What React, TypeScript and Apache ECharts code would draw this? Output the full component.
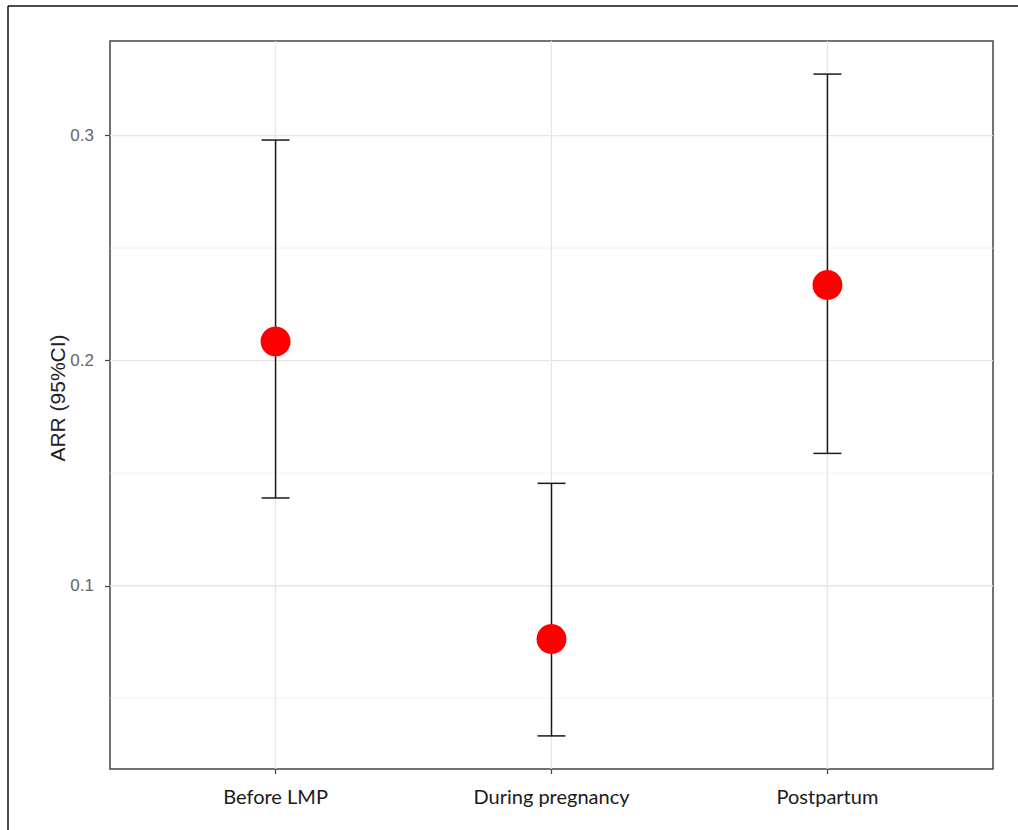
import React, { useEffect, useRef } from "react";
import * as echarts from "echarts";

const categories = ["Before LMP", "During pregnancy", "Postpartum"];
const categoryPositions = [1, 2, 3];
const estimates = [0.2085, 0.0764, 0.2336];
const lowerCI = [0.139, 0.0333, 0.1588];
const upperCI = [0.298, 0.1455, 0.3273];
const yTickValues = [0.1, 0.2, 0.3];
const yMinorValues = [0.05, 0.15, 0.25];

export default function App() {
  const ref = useRef<HTMLDivElement>(null);
  useEffect(() => {
    if (!ref.current) return;
    const chart = echarts.init(ref.current, null, { renderer: "svg" });

    const hLines = [
      ...yTickValues.map((v) => [v, 1]),
      ...yMinorValues.map((v) => [v, 0]),
    ];
    const vLines = categoryPositions.map((v) => [v]);

    const option = {
      animation: false,
      backgroundColor: "#ffffff",
      grid: {
        left: 110,
        top: 41,
        right: 25,
        bottom: 61,
        show: true,
        borderColor: "#444444",
        borderWidth: 1.5,
        backgroundColor: "transparent",
      },
      xAxis: {
        type: "value",
        min: 0.4,
        max: 3.6,
        splitLine: { show: false },
        axisLine: { show: false },
        axisTick: {
          show: true,
          customValues: categoryPositions,
          length: 5,
          lineStyle: { color: "#444444", width: 1.2 },
        },
        axisLabel: {
          customValues: categoryPositions,
          formatter: (v: number) => categories[Math.round(v) - 1] ?? "",
          color: "#1a1a1a",
          fontSize: 20,
          fontFamily: "Lato, 'Open Sans', sans-serif",
          margin: 17,
        },
      },
      yAxis: {
        type: "value",
        min: 0.0186,
        max: 0.342,
        splitLine: { show: false },
        axisLine: { show: false },
        axisTick: {
          show: true,
          customValues: yTickValues,
          length: 5,
          lineStyle: { color: "#444444", width: 1.2 },
        },
        axisLabel: {
          customValues: yTickValues,
          formatter: (v: number) => v.toFixed(1),
          color: "#666666",
          fontSize: 17,
          fontFamily: "'Liberation Sans', Arial, sans-serif",
          margin: 16,
        },
        name: "ARR (95%CI)",
        nameLocation: "middle",
        nameRotate: 90,
        nameGap: 42,
        nameMoveOverlap: false,
        nameTextStyle: {
          color: "#222222",
          fontSize: 21,
          fontFamily: "'Liberation Sans', Arial, sans-serif",
          padding: [0, 0, 0, 14],
        },
      },
      graphic: [
        {
          type: "line",
          shape: { x1: 8, y1: 6, x2: 8, y2: 830 },
          style: { stroke: "#111111", lineWidth: 1.5 },
          silent: true,
        },
        {
          type: "line",
          shape: { x1: 8, y1: 6, x2: 1018, y2: 6 },
          style: { stroke: "#111111", lineWidth: 1.5 },
          silent: true,
        },
      ],
      series: [
        {
          type: "custom",
          silent: true,
          z: 1,
          data: hLines,
          renderItem: (params: any, api: any) => {
            const cs = params.coordSys;
            const y = api.coord([1, api.value(0)])[1];
            const major = api.value(1) === 1;
            return {
              type: "line",
              shape: { x1: cs.x, y1: y, x2: cs.x + cs.width, y2: y },
              style: { stroke: major ? "#e6e6e6" : "#eeeeee", lineWidth: major ? 1.3 : 0.8 },
            };
          },
        },
        {
          type: "custom",
          silent: true,
          z: 1,
          data: vLines,
          renderItem: (params: any, api: any) => {
            const cs = params.coordSys;
            const x = api.coord([api.value(0), 0.2])[0];
            return {
              type: "line",
              shape: { x1: x, y1: cs.y, x2: x, y2: cs.y + cs.height },
              style: { stroke: "#e6e6e6", lineWidth: 1.3 },
            };
          },
        },
        {
          type: "custom",
          z: 2,
          data: categoryPositions.map((x, i) => [x, lowerCI[i], upperCI[i]]),
          renderItem: (params: any, api: any) => {
            const x = api.value(0);
            const lo = api.coord([x, api.value(1)]);
            const hi = api.coord([x, api.value(2)]);
            const hw = 14;
            const style = { stroke: "#1a1a1a", lineWidth: 1.5 };
            return {
              type: "group",
              children: [
                { type: "line", shape: { x1: lo[0], y1: lo[1], x2: hi[0], y2: hi[1] }, style },
                { type: "line", shape: { x1: hi[0] - hw, y1: hi[1], x2: hi[0] + hw, y2: hi[1] }, style },
                { type: "line", shape: { x1: lo[0] - hw, y1: lo[1], x2: lo[0] + hw, y2: lo[1] }, style },
              ],
            };
          },
        },
        {
          type: "scatter",
          z: 3,
          symbol: "circle",
          symbolSize: 30,
          itemStyle: { color: "#ff0000", opacity: 1 },
          data: categoryPositions.map((x, i) => [x, estimates[i]]),
        },
      ],
    };
    chart.setOption(option as any);
    return () => chart.dispose();
  }, []);
  return (
    <div
      ref={ref}
      style={{ position: "absolute", left: 0, top: 0, width: 1018, height: 830 }}
    />
  );
}
